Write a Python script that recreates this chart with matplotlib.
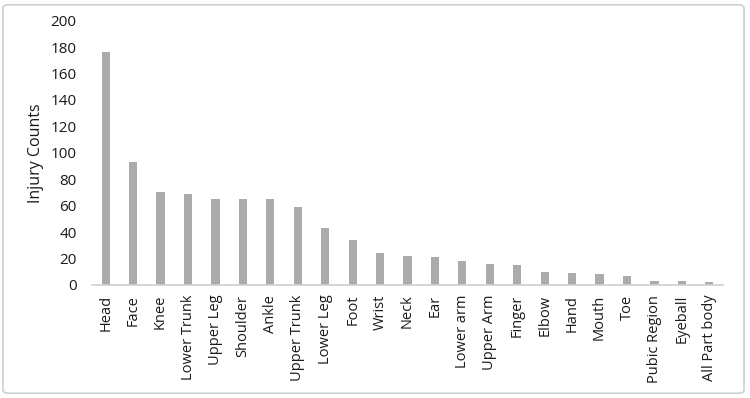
import matplotlib.pyplot as plt
from matplotlib.patches import FancyBboxPatch

# Injury counts by body part
body_parts = ["Head", "Face", "Knee", "Lower Trunk", "Upper Leg", "Shoulder", "Ankle",
              "Upper Trunk", "Lower Leg", "Foot", "Wrist", "Neck", "Ear", "Lower arm",
              "Upper Arm", "Finger", "Elbow", "Hand", "Mouth", "Toe", "Pubic Region",
              "Eyeball", "All Part body"]
injury_counts = [176, 93, 70, 69, 65, 65, 65, 59, 43, 34, 24, 22, 21, 18,
                 16, 15, 10, 9, 8, 7, 3, 3, 2]
y_ticks = [0, 20, 40, 60, 80, 100, 120, 140, 160, 180, 200]

plt.rcParams['font.family'] = ['Open Sans', 'DejaVu Sans']

fig = plt.figure(figsize=(7.5, 3.98), dpi=100)
ax = fig.add_axes([0.1227, 0.284, 0.8413, 0.664])

x = range(len(body_parts))
ax.bar(x, injury_counts, width=0.3, color="#ababab")

ax.set_xlim(-0.5, len(body_parts) - 0.5)
ax.set_ylim(0, 200)
ax.set_yticks(y_ticks)
ax.set_xticks(list(x))
ax.set_xticklabels(body_parts, rotation=90, fontsize=10.5, color="#1a1a1a")
ax.tick_params(axis="y", labelsize=11, labelcolor="#1a1a1a", length=0, pad=11)
ax.tick_params(axis="x", length=0, pad=7)
ax.set_ylabel("Injury Counts", fontsize=11.5, color="#1a1a1a", labelpad=5)

for side in ["top", "right", "left"]:
    ax.spines[side].set_visible(False)
ax.spines["bottom"].set_color("#d0d0d0")
ax.spines["bottom"].set_linewidth(1.2)

# Chart border
border = FancyBboxPatch((0.004, 0.012), 0.988, 0.976, boxstyle="round,pad=0,rounding_size=0.008",
                        transform=fig.transFigure, fill=False, edgecolor="#cfcfcf", linewidth=1.2)
fig.patches.append(border)

fig.savefig("out.png", dpi=100)
